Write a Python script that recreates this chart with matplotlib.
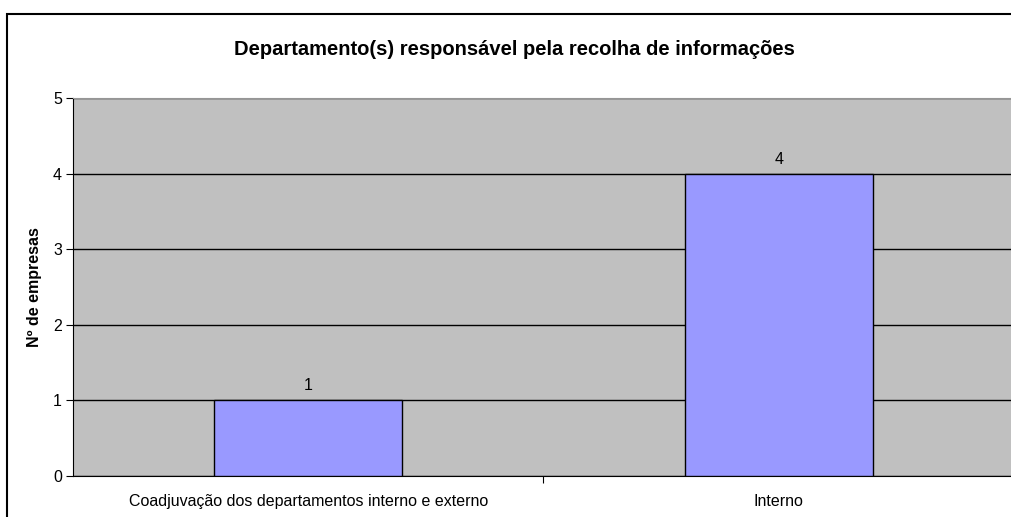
import matplotlib.pyplot as plt
from matplotlib.patches import Rectangle

plt.rcParams['font.family'] = ['Liberation Sans', 'DejaVu Sans']

categories = ["Coadjuvação dos departamentos interno e externo", "Interno"]
counts = [1, 4]
y_ticks = [0, 1, 2, 3, 4, 5]

W, H = 1012, 517
fig = plt.figure(figsize=(W / 100, H / 100), dpi=100)

# outer border of the chart object (cut off on right/bottom)
fig.patches.append(Rectangle((7 / W, -0.1), 1.2, 1 - 14 / H + 0.1, transform=fig.transFigure,
                             fill=False, edgecolor='black', linewidth=1.5))

ax = fig.add_axes([73 / W, (H - 476) / H, (1014 - 73) / W, (476 - 98) / H])
ax.set_facecolor('#C0C0C0')

x = list(range(len(categories)))
bars = ax.bar(x, counts, width=0.4, color='#9999FF', edgecolor='black', linewidth=1, zorder=3)
for b, v in zip(bars, counts):
    ax.annotate(str(v), (b.get_x() + b.get_width() / 2, v), xytext=(0, 5),
                textcoords='offset points', ha='center', va='bottom', fontsize=11.5)

ax.set_xlim(-0.5, len(categories) - 0.5)
ax.set_ylim(0, 5)
ax.set_yticks(y_ticks)
ax.tick_params(axis='y', direction='out', length=5, labelsize=11.5, pad=3)

# tick marks between categories, labels at the centres
ax.set_xticks([i + 0.5 for i in x[:-1]])
ax.set_xticklabels([])
ax.set_xticks(x, minor=True)
ax.set_xticklabels(categories, minor=True)
ax.tick_params(axis='x', which='major', direction='out', length=5)
ax.tick_params(axis='x', which='minor', length=0, labelsize=11.5, pad=13)

ax.yaxis.grid(True, color='black', linewidth=1)
ax.set_axisbelow(True)
ax.spines['top'].set_color('#969696')
ax.spines['left'].set_color('black')
ax.spines['bottom'].set_color('black')
ax.spines['right'].set_visible(False)

ax.set_ylabel("Nº de empresas", fontsize=11.5, fontweight='bold', labelpad=8)
fig.text(514 / W, 1 - 50 / H, "Departamento(s) responsável pela recolha de informações",
         ha='center', va='center', fontsize=14.5, fontweight='bold')

fig.savefig("out.png", dpi=100)
